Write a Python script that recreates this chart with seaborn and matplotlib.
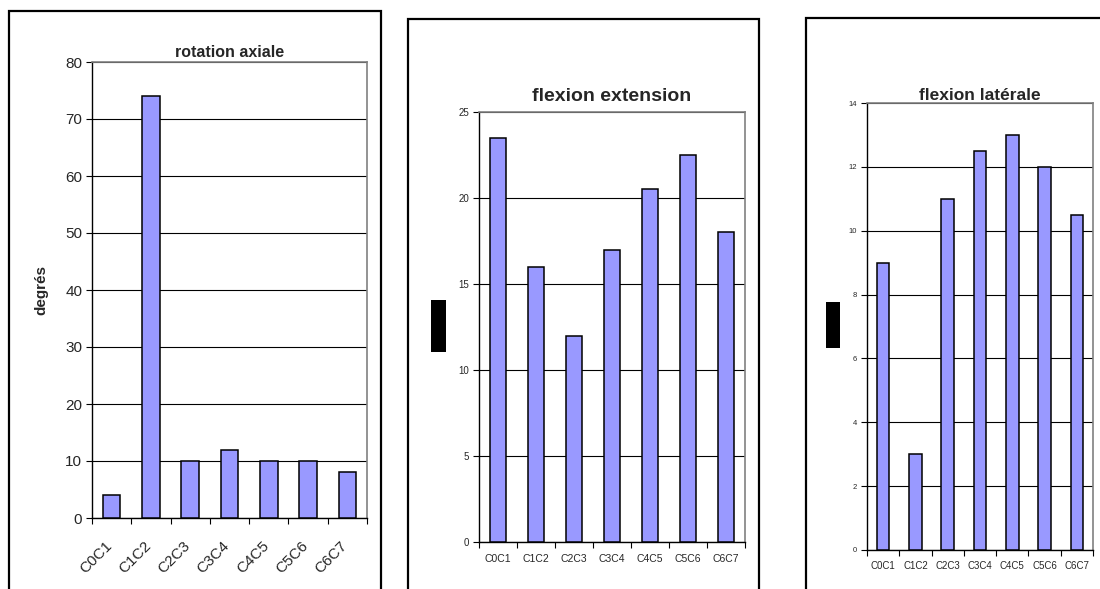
import numpy as np
import pandas as pd
import matplotlib
matplotlib.use("Agg")
import matplotlib.pyplot as plt
import matplotlib.transforms as mtransforms
from matplotlib.patches import Rectangle
import seaborn as sns

segments = ["C0C1", "C1C2", "C2C3", "C3C4", "C4C5", "C5C6", "C6C7"]
rotation_axiale = [4, 74, 10, 12, 10, 10, 8]
flexion_extension = [23.5, 16, 12, 17, 20.5, 22.5, 18]
flexion_laterale = [9, 3, 11, 12.5, 13, 12, 10.5]

titles = ["rotation axiale", "flexion extension", "flexion latérale"]
y_max = [80, 25, 14]
y_step = [10, 5, 2]

sns.set_style("white")
plt.rcParams['font.family'] = ['Liberation Sans', 'DejaVu Sans']

fig = plt.figure(figsize=(11, 5.89), dpi=100)

W, H = 1100, 589
def frame(x0, x1, ytop):
    fig.patches.append(Rectangle((x0 / W, -0.05), (x1 - x0) / W, 1 - ytop / H + 0.05,
                                 transform=fig.transFigure, fill=False,
                                 edgecolor="black", linewidth=1.6, zorder=0))
frame(9, 381, 11)
frame(408, 759, 19)
frame(806, 1110, 18)

# axes boxes in pixels: left, right, top, bottom
boxes = [(92, 367, 62, 518), (479, 745, 112, 542), (867, 1093, 103, 550)]
series = [rotation_axiale, flexion_extension, flexion_laterale]
widths = [0.45, 0.44, 0.39]
ytick_fs = [11, 7, 5.5]
xtick_fs = [11, 7.5, 7]
xtick_pad = [15, 8.5, 8]
title_fs = [11.5, 14, 12.5]
title_pad = [3.5, 8, 2]

for i in range(3):
    l, r, t, b = boxes[i]
    ax = fig.add_axes([l / W, 1 - b / H, (r - l) / W, (b - t) / H])
    df = pd.DataFrame({"segment": segments, "valeur": series[i]})
    sns.barplot(data=df, x="segment", y="valeur", ax=ax, color="#9999FF",
                saturation=1, edgecolor="black", linewidth=1.1, width=widths[i], zorder=3)
    ax.set_xlim(-0.5, len(segments) - 0.5)
    ax.set_ylim(0, y_max[i])
    ax.set_yticks(np.arange(0, y_max[i] + 0.001, y_step[i]))
    ax.yaxis.grid(True, color="black", linewidth=0.8, zorder=0)
    ax.set_axisbelow(True)
    ax.set_xticks(np.arange(-0.5, len(segments), 1), minor=True)
    ax.tick_params(axis="x", which="major", length=0, labelsize=xtick_fs[i], pad=xtick_pad[i])
    ax.tick_params(axis="x", which="minor", length=4, width=0.8, color="black", direction="out", bottom=True)
    ax.tick_params(axis="y", length=4, width=0.8, color="black", direction="out", left=True,
                   labelsize=ytick_fs[i], pad=3)
    for s in ["left", "bottom"]:
        ax.spines[s].set_color("black")
        ax.spines[s].set_linewidth(1.0)
    for s in ["top", "right"]:
        ax.spines[s].set_visible(True)
        ax.spines[s].set_color("#808080")
        ax.spines[s].set_linewidth(1.2)
    ax.set_xlabel("")
    ax.set_ylabel("")
    ax.set_title(titles[i], fontsize=title_fs[i], fontweight="bold", pad=title_pad[i])
    if i == 0:
        ax.set_ylabel("degrés", fontsize=11, fontweight="bold")
        ax.yaxis.set_label_coords(-0.158, 0.5)
        offset = mtransforms.ScaledTranslation(-7 / 100, 0, fig.dpi_scale_trans)
        for lab in ax.get_xticklabels():
            lab.set_rotation(45)
            lab.set_ha("right")
            lab.set_rotation_mode("anchor")
            lab.set_transform(lab.get_transform() + offset)

# redacted axis-label boxes
fig.patches.append(Rectangle((431 / W, 1 - 352 / H), 15 / W, 52 / H, transform=fig.transFigure,
                             facecolor="black", edgecolor="none", zorder=5))
fig.patches.append(Rectangle((826 / W, 1 - 348 / H), 14 / W, 46 / H, transform=fig.transFigure,
                             facecolor="black", edgecolor="none", zorder=5))

fig.savefig("out.png", dpi=100, facecolor="white")
